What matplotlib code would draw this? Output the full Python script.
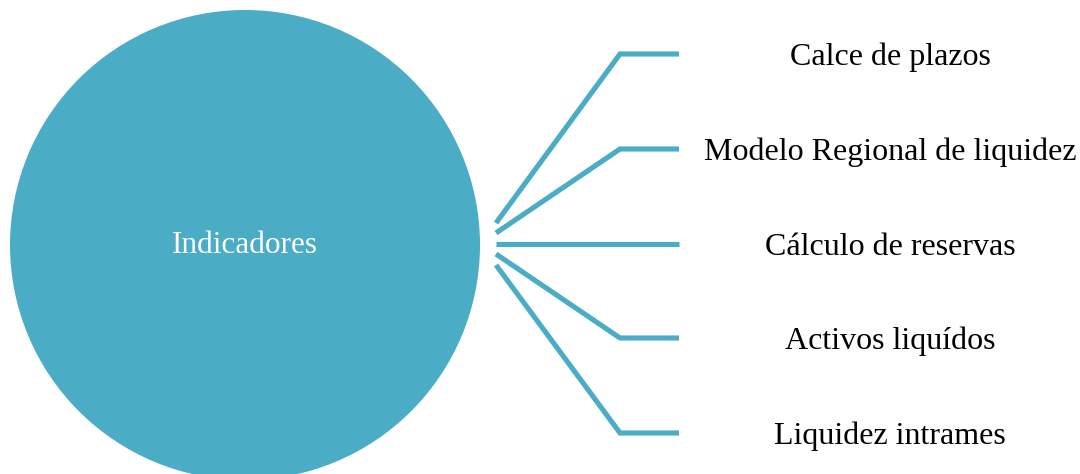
import matplotlib.pyplot as plt
from matplotlib.patches import Circle

centro = "Indicadores"
ramas = ["Calce de plazos", "Modelo Regional de liquidez", "Cálculo de reservas",
         "Activos liquídos", "Liquidez intrames"]

color = "#4BACC6"
plt.rcParams['font.family'] = ['Liberation Serif', 'DejaVu Serif']

fig = plt.figure(figsize=(10.8, 4.74), dpi=100)
ax = fig.add_axes([0, 0, 1, 1])
ax.set_xlim(0, 1080)
ax.set_ylim(474, 0)
ax.axis('off')

# circulo principal
ax.add_patch(Circle((245, 245), 235, color=color, lw=0))
ax.text(245, 253, centro, color='white', fontsize=22.5, ha='center', va='baseline')

# ramas
inicio_y = [223, 233, 243.5, 254, 265]
fin_y = [54, 149, 243.5, 338, 433]
for i, nombre in enumerate(ramas):
    ax.plot([496, 620, 679], [inicio_y[i], fin_y[i], fin_y[i]], color=color,
            lw=3.7, solid_capstyle='butt', solid_joinstyle='miter')
    ax.text(890, fin_y[i] + 11, nombre, fontsize=23, ha='center', va='baseline')

fig.savefig("out.png", dpi=100)
